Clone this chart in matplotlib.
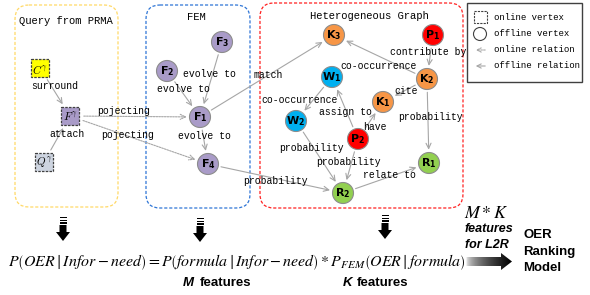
import numpy as np
import matplotlib.pyplot as plt
from matplotlib.patches import FancyBboxPatch, Circle, Rectangle, Polygon, FancyArrowPatch

plt.rcParams['mathtext.fontset'] = 'stix'

# vertices: name, label, subscript, x, y, colour
nodes = {
    'F1': ('F', '1', 200, 117, '#a99bc8'),
    'F2': ('F', '2', 167, 71, '#a99bc8'),
    'F3': ('F', '3', 222, 42, '#a99bc8'),
    'F4': ('F', '4', 208, 164, '#a99bc8'),
    'K1': ('K', '1', 383, 102, '#f79646'),
    'K2': ('K', '2', 427, 79, '#f79646'),
    'K3': ('K', '3', 334, 35, '#f79646'),
    'W1': ('W', '1', 332, 77, '#00b0f0'),
    'W2': ('W', '2', 296, 121, '#00b0f0'),
    'P1': ('P', '1', 433, 35, '#ff0000'),
    'P2': ('P', '2', 358, 139, '#ff0000'),
    'R1': ('R', '1', 429, 163, '#92d050'),
    'R2': ('R', '2', 343, 193, '#92d050'),
}
query_nodes = {
    'C': ('C', 40, 68, '#ffff00'),
    'Fq': ('F', 70, 116, '#a99bc8'),
    'Q': ('Q', 44, 162, '#cdd4e0'),
}

# edges: source, target, label, label x, label y, online?
edges = [
    ('C', 'Fq', 'surround', 55, 86, False),
    ('Q', 'Fq', 'attach', 67, 134, False),
    ('Fq', 'F1', 'pojecting', 124, 111, True),
    ('Fq', 'F4', 'pojecting', 128, 135, True),
    ('F2', 'F1', 'evolve to', 183, 89, False),
    ('F3', 'F1', 'evolve to', 209, 74, False),
    ('F1', 'F4', 'evolve to', 204, 136, False),
    ('F1', 'K3', 'match', 268, 75, False),
    ('F4', 'R2', 'probability', 275, 181, False),
    ('K2', 'K3', 'co-occurrence', 379, 66, False),
    ('W1', 'W2', 'co-occurrence', 300, 100, False),
    ('P2', 'W1', 'assign to', 345, 112, False),
    ('P2', 'K1', 'have', 375, 127, False),
    ('K2', 'K1', 'cite', 406, 91, False),
    ('P1', 'K2', 'contribute by', 428, 52, False),
    ('K2', 'R1', 'probability', 430, 117, False),
    ('W2', 'R2', 'probability', 311, 148, False),
    ('P2', 'R2', 'probability', 348, 162, False),
    ('R2', 'R1', 'relate to', 389, 175, False),
]

R = 10.5
SQ = 9

fig = plt.figure(figsize=(5.9, 2.95), dpi=100)
ax = fig.add_axes([0, 0, 1, 1])
ax.set_xlim(0, 590)
ax.set_ylim(295, 0)
ax.axis('off')

mono = 'Liberation Mono'
sans = 'Liberation Sans'


def pos(k):
    if k in nodes:
        return nodes[k][2], nodes[k][3], R
    return query_nodes[k][1], query_nodes[k][2], SQ + 2


# group boxes
for (x0, y0, x1, y1, c) in [(15, 5, 118, 207, '#ffd966'),
                            (146, 5, 250, 208, '#2e75d6'),
                            (260, 3, 463, 208, '#ff2020')]:
    ax.add_patch(FancyBboxPatch((x0 + 14, y0 + 14), x1 - x0 - 28, y1 - y0 - 28,
                                boxstyle='round,pad=14', fc='none', ec=c,
                                lw=0.9, ls=(0, (2.5, 1.5))))
ax.text(66, 21, 'Query from PRMA', family=mono, fontsize=7.6, ha='center', va='center')
ax.text(196, 17, 'FEM', family=mono, fontsize=7.6, ha='center', va='center')
ax.text(369, 16, 'Heterogeneous Graph', family=mono, fontsize=7.6, ha='center', va='center')

# edges
for s, t, lab, lx, ly, online in edges:
    x0, y0, r0 = pos(s)
    x1, y1, r1 = pos(t)
    d = np.hypot(x1 - x0, y1 - y0)
    ux, uy = (x1 - x0) / d, (y1 - y0) / d
    ax.add_patch(FancyArrowPatch((x0 + ux * r0, y0 + uy * r0), (x1 - ux * r1, y1 - uy * r1),
                                 arrowstyle='->,head_length=2.5,head_width=1.2',
                                 color='#a6a6a6', lw=0.8,
                                 ls=(0, (1.5, 1)) if online else '-',
                                 mutation_scale=1.5, zorder=1))
    ax.text(lx, ly, lab, family=mono, fontsize=7, ha='center', va='center', zorder=2)

# offline vertices
for k, (l, sub, x, y, c) in nodes.items():
    ax.add_patch(Circle((x, y), R, fc=c, ec='#8c8c8c', lw=0.8, zorder=3))
    ax.text(x, y, r'$\mathbf{%s}_{\mathbf{%s}}$' % (l, sub), fontsize=8,
            ha='center', va='center', zorder=4, math_fontfamily='dejavusans')

# online vertices
for k, (l, x, y, c) in query_nodes.items():
    ax.add_patch(Rectangle((x - SQ, y - SQ), 2 * SQ, 2 * SQ, fc=c, ec='#404040',
                           lw=0.9, ls=(0, (2, 1)), zorder=3))
    ax.text(x, y + 1, r'$%s^{\gamma}$' % l, fontsize=8, ha='center', va='center',
            zorder=4, math_fontfamily='cm')

# legend
ax.add_patch(Rectangle((467, 3), 115, 79, fc='white', ec='#404040', lw=1))
ax.add_patch(Rectangle((474, 11), 13, 12, fc='none', ec='#404040', lw=0.8, ls=(0, (2, 1))))
ax.add_patch(Circle((480, 34), 6.5, fc='none', ec='#404040', lw=0.8))
ax.add_patch(FancyArrowPatch((488, 50), (473, 50), arrowstyle='->,head_length=2,head_width=1',
                             color='#a6a6a6', lw=0.8, ls=(0, (1.5, 1)), mutation_scale=1.5))
ax.add_patch(FancyArrowPatch((488, 66), (473, 66), arrowstyle='->,head_length=2,head_width=1',
                             color='#a6a6a6', lw=0.8, mutation_scale=1.5))
for yy, lab in zip([18, 34, 50, 66], ['online vertex', 'offline vertex',
                                      'online relation', 'offline relation']):
    ax.text(494, yy, lab, family=mono, fontsize=6.5, va='center')

# down block arrows with stripes
for cx, top in [(63, 217), (200, 218), (385, 215)]:
    for i, (h, w) in enumerate([(1.2, 7), (1.2, 7), (1.6, 7)]):
        ax.add_patch(Rectangle((cx - w / 2, top + i * 2.6), w, h, fc='black', lw=0))
    ax.add_patch(Polygon([(cx - 3.5, top + 8), (cx + 3.5, top + 8), (cx + 3.5, top + 15),
                          (cx + 7, top + 15), (cx, top + 24), (cx - 7, top + 15),
                          (cx - 3.5, top + 15)], closed=True, fc='black', lw=0))

# formula
ax.text(8, 262, r'$P\left(OER\mid Infor-need\right)=P\left(formula\mid Infor-need\right)*P_{FEM}\left(OER\mid formula\right)$',
        fontsize=11.4, ha='left', va='center')
ax.text(183, 283, 'M', fontsize=9.5, fontweight='bold', style='italic',
        family=sans, ha='left', va='center')
ax.text(200, 283, 'features', fontsize=9.5, fontweight='bold',
        family=sans, ha='left', va='center')
ax.text(343, 283, 'K', fontsize=9.5, fontweight='bold', style='italic',
        family=sans, ha='left', va='center')
ax.text(357, 283, 'features', fontsize=9.5, fontweight='bold',
        family=sans, ha='left', va='center')

# M*K features for L2R
ax.text(486, 213, r'$M*K$', fontsize=13, ha='center', va='center')
ax.text(465, 229, 'features', fontsize=9, fontweight='bold', style='italic',
        family=sans, ha='left', va='center')
ax.text(465, 245, 'for L2R', fontsize=9, fontweight='bold', style='italic',
        family=sans, ha='left', va='center')

# gradient arrow
grad = np.linspace(0, 1, 100)[None, :]
im = ax.imshow(1 - grad ** 0.5, cmap='gray', vmin=0, vmax=1, extent=(466, 512, 270, 253),
               aspect='auto', zorder=2)
arrow = Polygon([(466, 257), (501, 257), (501, 253), (512, 261.5), (501, 270), (501, 266),
                 (466, 266)], closed=True, fc='none', ec='none')
ax.add_patch(arrow)
im.set_clip_path(arrow)

for yy, lab in zip([235, 252, 268], ['OER', 'Ranking', 'Model']):
    ax.text(523, yy, lab, fontsize=9.5, fontweight='bold', family=sans, va='center')

fig.savefig('out.png', dpi=100)
